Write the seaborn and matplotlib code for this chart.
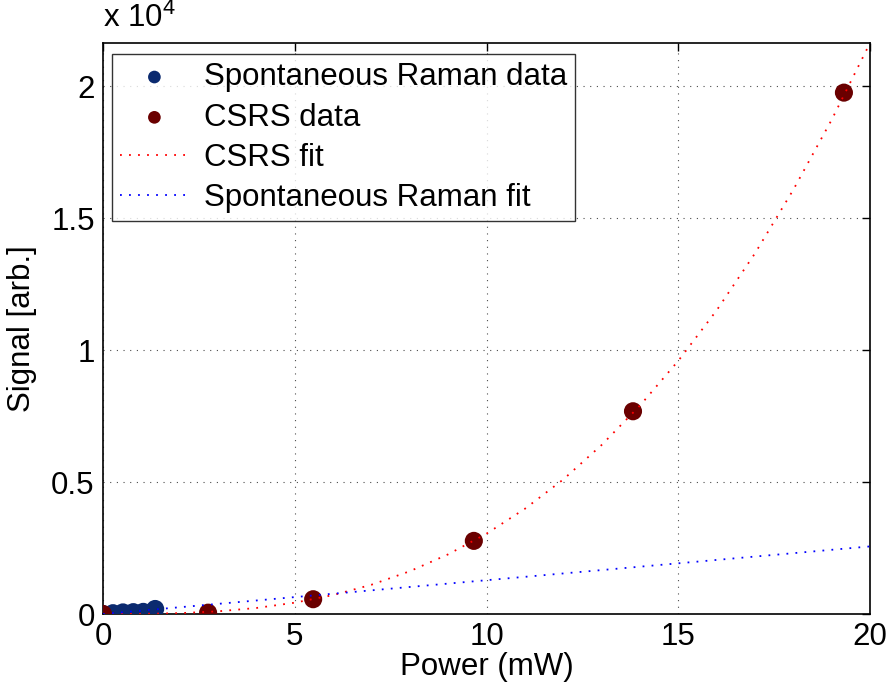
import numpy as np
import pandas as pd
import matplotlib
matplotlib.use("Agg")
import matplotlib.pyplot as plt
import seaborn as sns

# ---- data ----
spont_x = [0.0, 0.26, 0.52, 0.79, 1.05, 1.36]
spont_y = [0, 30, 60, 70, 80, 190]
csrs_x = [0.0, 2.74, 5.48, 9.67, 13.82, 19.32]
csrs_y = [0, 50, 560, 2770, 7680, 19750]
fit_x = [0, 1, 2, 3, 4, 5, 6, 7, 8, 9, 10, 11, 12, 13, 14, 15, 16, 17, 18, 19, 20]
csrs_fit = [0, 5, 32, 101, 228, 428, 717, 1108, 1620, 2260, 3042, 3985, 5094,
            6400, 7893, 9590, 11500, 13660, 16070, 18720, 21630]
spont_fit = [0, 128, 256, 384, 512, 640, 768, 896, 1024, 1152, 1280, 1408, 1536,
             1664, 1792, 1920, 2048, 2176, 2304, 2432, 2560]
x_ticks = [0, 5, 10, 15, 20]
y_ticks = [0, 5000, 10000, 15000, 20000]
y_tick_labels = ["0", "0.5", "1", "1.5", "2"]

sns.set_style("white")
plt.rcParams["font.family"] = ["Liberation Sans", "DejaVu Sans"]
plt.rcParams["mathtext.fontset"] = "custom"
plt.rcParams["mathtext.rm"] = "Liberation Sans"
plt.rcParams["text.color"] = "black"
plt.rcParams["axes.labelcolor"] = "black"

fs = 22.5
fig = plt.figure(figsize=(8.92, 6.96), dpi=100)
ax = fig.add_axes([103 / 892, 82 / 696, 767 / 892, 571 / 696])

c_spont = "#0b2a6f"
c_csrs = "#6a0000"

df_s = pd.DataFrame({"x": spont_x, "y": spont_y})
df_c = pd.DataFrame({"x": csrs_x, "y": csrs_y})
df_f = pd.DataFrame({"x": fit_x, "c": csrs_fit, "s": spont_fit})

sns.scatterplot(data=df_s, x="x", y="y", ax=ax, color=c_spont, s=170,
                edgecolor="none", label="Spontaneous Raman data", zorder=3)
sns.scatterplot(data=df_c, x="x", y="y", ax=ax, color=c_csrs, s=170,
                edgecolor="none", label="CSRS data", zorder=4)
sns.lineplot(data=df_f, x="x", y="c", ax=ax, color="red", linestyle=(0, (1, 4)),
             linewidth=1.3, label="CSRS fit", zorder=5)
sns.lineplot(data=df_f, x="x", y="s", ax=ax, color="blue", linestyle=(0, (1, 4)),
             linewidth=1.3, label="Spontaneous Raman fit", zorder=5)

ax.set_xlim(0, 20)
ax.set_ylim(0, 21630)
ax.set_xticks(x_ticks)
ax.set_xticklabels([str(t) for t in x_ticks])
ax.set_yticks(y_ticks)
ax.set_yticklabels(y_tick_labels)
ax.tick_params(direction="in", length=6, width=1, top=True, right=True,
               labelsize=fs, pad=6, colors="black")
ax.grid(True, color="black", linestyle=(0, (1, 5)), linewidth=0.8, alpha=0.7)
for sp in ax.spines.values():
    sp.set_color("black")
    sp.set_linewidth(1.2)

ax.set_xlabel("Power (mW)", fontsize=fs, labelpad=0)
ax.set_ylabel("Signal [arb.]", fontsize=fs, labelpad=10)
ax.text(0.0, 1.015, r"x 10$^4$", transform=ax.transAxes, fontsize=fs,
        ha="left", va="bottom")

leg = ax.legend(loc="upper left", bbox_to_anchor=(0.012, 0.98), borderaxespad=0,
                fontsize=fs, frameon=True, fancybox=False, edgecolor="black",
                handlelength=2.2, handletextpad=0.5, borderpad=0.25,
                labelspacing=0.33, markerscale=0.7)
leg.get_frame().set_linewidth(1.0)

fig.savefig("out.png", dpi=100, facecolor="white")
